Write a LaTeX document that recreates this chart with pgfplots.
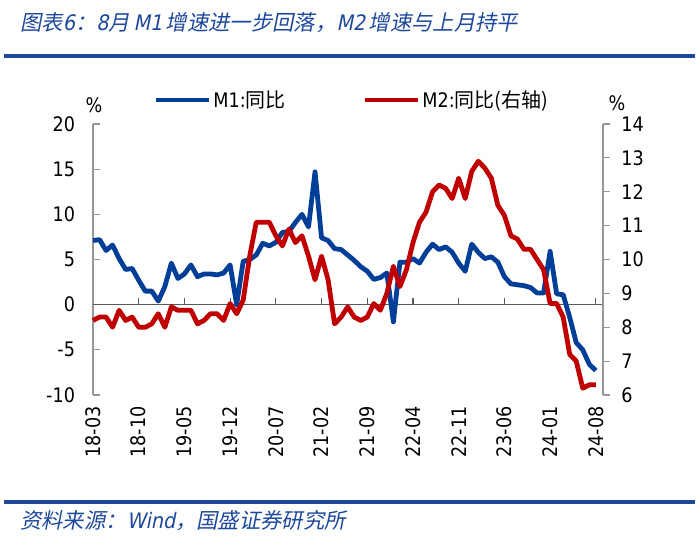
\documentclass[border=0pt]{standalone}
\usepackage{fontspec}
\usepackage{pgfplots}
\pgfplotsset{compat=1.18}
\setmainfont{DejaVu Sans}[FakeStretch=0.88]
\newfontfamily\cjk{Noto Sans CJK SC}
\newfontfamily\cjkit{Noto Sans CJK SC}[FakeSlant=0.2]
\newfontfamily\latit{DejaVu Sans}[FakeSlant=0.2,FakeStretch=0.9]
\definecolor{m1blue}{RGB}{0,62,152}
\definecolor{m2red}{RGB}{192,0,0}
\definecolor{titleblue}{RGB}{30,72,155}
\definecolor{axgray}{RGB}{150,150,150}

\pgfplotstableread{
i v
0 7.1
1 7.2
2 6.0
3 6.6
4 5.1
5 3.9
6 4.0
7 2.7
8 1.5
9 1.5
10 0.4
11 2.0
12 4.6
13 2.9
14 3.4
15 4.4
16 3.1
17 3.4
18 3.4
19 3.3
20 3.5
21 4.4
22 0.0
23 4.8
24 5.0
25 5.5
26 6.8
27 6.5
28 6.9
29 8.0
30 8.1
31 9.1
32 10.0
33 8.6
34 14.7
35 7.4
36 7.1
37 6.2
38 6.1
39 5.5
40 4.9
41 4.2
42 3.7
43 2.8
44 3.0
45 3.5
46 -1.9
47 4.7
48 4.7
49 5.1
50 4.6
51 5.8
52 6.7
53 6.1
54 6.4
55 5.8
56 4.6
57 3.7
58 6.7
59 5.8
60 5.1
61 5.3
62 4.7
63 3.1
64 2.3
65 2.2
66 2.1
67 1.9
68 1.3
69 1.3
70 5.9
71 1.2
72 1.1
73 -1.4
74 -4.2
75 -5.0
76 -6.6
77 -7.3
}\mone

\pgfplotstableread{
i v
0 8.2
1 8.3
2 8.3
3 8.0
4 8.5
5 8.2
6 8.3
7 8.0
8 8.0
9 8.1
10 8.4
11 8.0
12 8.6
13 8.5
14 8.5
15 8.5
16 8.1
17 8.2
18 8.4
19 8.4
20 8.2
21 8.7
22 8.4
23 8.8
24 10.1
25 11.1
26 11.1
27 11.1
28 10.7
29 10.4
30 10.9
31 10.5
32 10.7
33 10.1
34 9.4
35 10.1
36 9.4
37 8.1
38 8.3
39 8.6
40 8.3
41 8.2
42 8.3
43 8.7
44 8.5
45 9.0
46 9.8
47 9.2
48 9.7
49 10.5
50 11.1
51 11.4
52 12.0
53 12.2
54 12.1
55 11.8
56 12.4
57 11.8
58 12.6
59 12.9
60 12.7
61 12.4
62 11.6
63 11.3
64 10.7
65 10.6
66 10.3
67 10.3
68 10.0
69 9.7
70 8.7
71 8.7
72 8.3
73 7.2
74 7.0
75 6.2
76 6.3
77 6.3
}\mtwo

\begin{document}
\begin{tikzpicture}
\path[use as bounding box] (0pt,0pt) rectangle (525pt,405pt);
% title and source
\node[anchor=west, inner sep=0pt, text=titleblue, font=\fontsize{16pt}{17pt}\selectfont] at (15pt,388pt)
  {{\cjkit 图表}{\latit 6}{\cjkit ：}{\latit 8}{\cjkit 月}{\latit\,M1\,}{\cjkit 增速进一步回落，}{\latit M2\,}{\cjkit 增速与上月持平}};
\draw[titleblue, line width=2.6pt] (3pt,363pt) -- (521.25pt,363pt);
\draw[titleblue, line width=2.6pt] (3pt,28.5pt) -- (521.25pt,28.5pt);
\node[anchor=west, inner sep=0pt, text=titleblue, font=\fontsize{16pt}{17pt}\selectfont] at (15pt,14.25pt)
  {{\cjkit 资料来源：}{\latit Wind}{\cjkit ，国盛证券研究所}};
\node[font=\fontsize{15pt}{15pt}\selectfont] at (70.5pt,326.25pt) {\%};
\node[font=\fontsize{15pt}{15pt}\selectfont] at (462.75pt,327.75pt) {\%};

\begin{axis}[
  name=main,
  at={(69.75pt,108.75pt)}, anchor=south west, scale only axis,
  width=382.5pt, height=203.25pt,
  xmin=0, xmax=78.1, ymin=-10, ymax=20,
  ytick={-10,-5,...,20},
  axis y line*=left, axis x line*=bottom,
  x axis line style={draw=none},
  y axis line style={draw=axgray, line width=0.9pt},
  ytick style={draw=axgray, line width=0.9pt},
  xtick style={draw=none},
  major tick length=5.25pt,
  tick align=inside,
  xtick={0,7,...,77},
  xticklabels={18-03,18-10,19-05,19-12,20-07,21-02,21-09,22-04,22-11,23-06,24-01,24-08},
  xticklabel style={rotate=90, anchor=east, xshift=-5pt},
  yticklabel style={xshift=-10pt},
  tick label style={font=\fontsize{15pt}{15pt}\selectfont},
  /pgf/number format/assume math mode=true,
  clip=false,
  legend columns=2,
  legend style={at={(0.1176,1.0886)}, anchor=west, draw=none, fill=none,
    inner sep=0pt, font=\fontsize{15pt}{15pt}\selectfont,
    nodes={inner sep=1.5pt},
    /tikz/every even column/.append style={column sep=56pt}},
  legend image code/.code={\draw[#1] (0pt,0pt) -- (40pt,0pt);},
]
\draw[black!65, line width=0.9pt] (axis cs:0,0) -- (axis cs:78.1,0);
\pgfplotsinvokeforeach{7,14,21,28,35,42,49,56,63,70,77}{
  \draw[black!65, line width=0.9pt] (axis cs:#1,0) -- ++(0pt,5.25pt);
}
\addplot[m1blue, line width=3.6pt, line join=round] table[x=i,y=v] {\mone};
\addlegendentry{M1:{\cjk 同比}}
\addlegendimage{m2red, line width=3.6pt}
\addlegendentry{M2:{\cjk 同比(右轴)}}
\end{axis}

\begin{axis}[
  at={(main.south west)}, anchor=south west, scale only axis,
  width=382.5pt, height=203.25pt,
  xmin=0, xmax=78.1, ymin=6, ymax=14,
  ytick={6,7,...,14},
  axis y line*=right, axis x line=none,
  y axis line style={draw=axgray, line width=0.9pt},
  ytick style={draw=axgray, line width=0.9pt},
  major tick length=5.25pt,
  tick align=outside,
  yticklabel style={xshift=5pt},
  tick label style={font=\fontsize{15pt}{15pt}\selectfont},
  /pgf/number format/assume math mode=true,
  clip=false,
]
\addplot[m2red, line width=3.6pt, line join=round] table[x=i,y=v] {\mtwo};
\end{axis}
\end{tikzpicture}
\end{document}
